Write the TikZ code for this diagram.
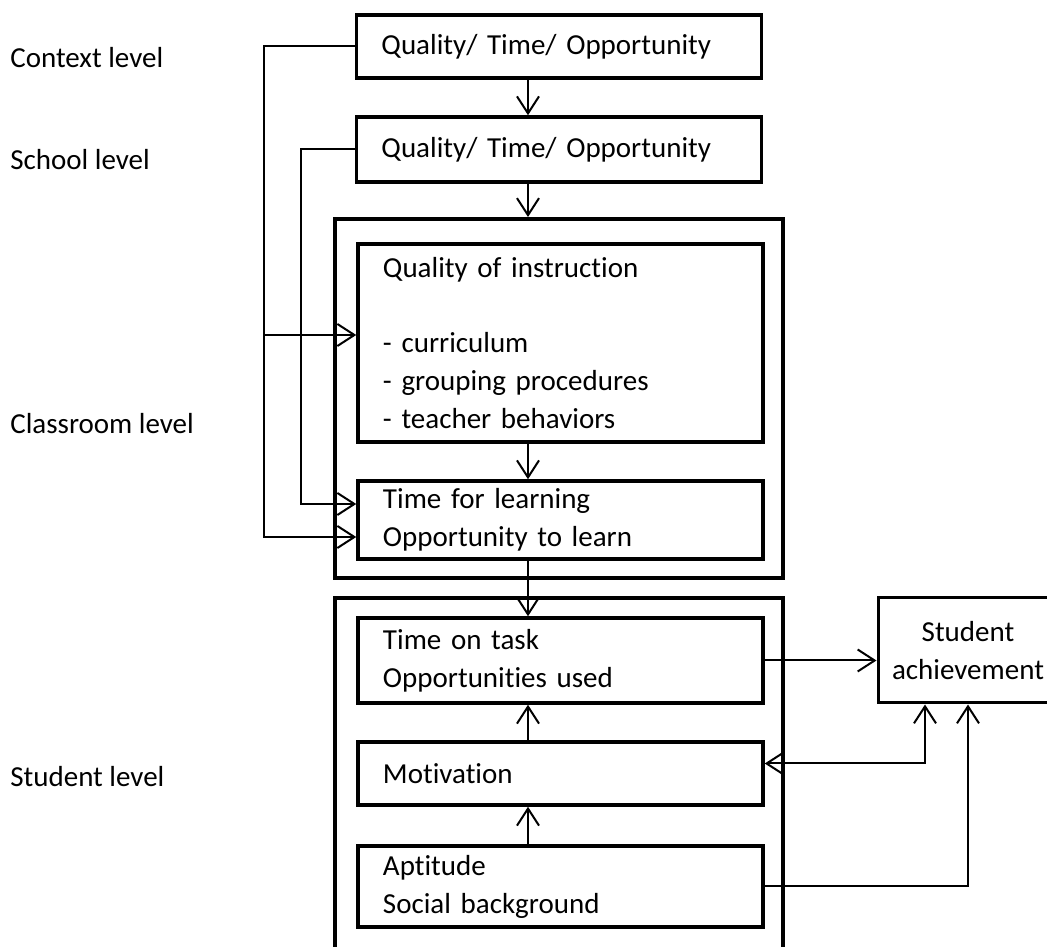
\documentclass[tikz,border=0pt]{standalone}
\usepackage{fontspec}
\setmainfont{Carlito}[Ligatures=NoCommon]
\usepackage{tikz}
\usetikzlibrary{calc, arrows.meta}

\begin{document}
\begin{tikzpicture}[x=0.2mm, y=-0.2mm]

        % Styles for boxes, frames and arrows
        \tikzset{box/.style={draw, line width=0.7mm, align=left, text width=71mm, inner xsep=5mm,
                             minimum width=81mm, font=\fontsize{16.5}{21.6}\selectfont},
                 frame/.style={draw, line width=0.8mm, minimum width=89.6mm},
                 lvl/.style={anchor=west, inner sep=0pt, font=\fontsize{16.5}{21.6}\selectfont},
                 arr/.style={-{Straight Barb[length=3.4mm, width=4.4mm]}, line width=0.4mm},
                 arr2/.style={{Straight Barb[length=3.4mm, width=4.4mm]}-{Straight Barb[length=3.4mm, width=4.4mm]},
                              line width=0.4mm}}

        \useasboundingbox (0,0) rectangle (1047,947);

        % =================================================================
        % 1. LEVEL LABELS
        % =================================================================

        \node[lvl] (lctx) at (10, 58) {Context level};
        \node[lvl] (lsch) at (10, 160) {School level};
        \node[lvl] (lcls) at (10, 424) {Classroom level};
        \node[lvl] (lstu) at (10, 777) {Student level};

        % =================================================================
        % 2. BOXES
        % =================================================================

        % Outer frames (student frame runs off the bottom)
        \node[frame, minimum height=71.8mm] (cls) at (559, 398.5) {};
        \node[frame, minimum height=78.4mm] (stu) at (559, 794) {};

        \node[box, minimum height=12.6mm] (ctx) at (559, 46.5) {Quality/ Time/ Opportunity};
        \node[box, minimum height=13mm] (sch) at (559, 149.5) {Quality/ Time/ Opportunity};
        \node[box, minimum height=39.6mm] (qoi) at (560.5, 343)
            {Quality of instruction\\[21.6pt]- curriculum\\- grouping procedures\\- teacher behaviors};
        \node[box, minimum height=15.6mm] (tfl) at (560.5, 520) {Time for learning\\Opportunity to learn};
        \node[box, minimum height=17mm] (tot) at (560.5, 660.5) {Time on task\\Opportunities used};
        \node[box, minimum height=12.6mm] (mot) at (560.5, 773.5) {Motivation};
        \node[box, minimum height=16.2mm] (apt) at (560.5, 886.5) {Aptitude\\Social background};
        \node[box, align=center, text width=34mm, inner xsep=1mm, minimum width=36mm, line width=0.6mm,
              minimum height=21mm] (ach) at (968, 650.5) {Student\\achievement};

        % =================================================================
        % 3. ARROWS
        % =================================================================

        % Define Coordinates
        \coordinate (ax) at (528, 0);
        \coordinate (cx) at (264, 0);
        \coordinate (sx) at (301, 0);
        \coordinate (qoiA) at ($(qoi.west)+(0,-8)$);
        \coordinate (tflA) at ($(tfl.west)+(0,-16)$);
        \coordinate (tflB) at ($(tfl.west)+(0,17)$);
        \coordinate (motA) at ($(mot.east)+(0,-10)$);
        \coordinate (achA) at ($(ach.south)+(-43,0)$);

        % Downward chain
        \draw[arr] (ax |- ctx.south) -- (ax |- sch.north);
        \draw[arr] (ax |- sch.south) -- (ax |- cls.north);
        \draw[arr] (ax |- qoi.south) -- (ax |- tfl.north);
        \draw[arr] (ax |- tfl.south) -- (ax |- tot.north);
        \draw[arr] (ax |- mot.north) -- (ax |- tot.south);
        \draw[arr] (ax |- apt.north) -- (ax |- mot.south);

        % Feed lines on the left
        \draw[arr] (ctx.west) -| (cx |- tflB) -- (tflB);
        \draw[arr] (cx |- qoiA) -- (qoiA);
        \draw[arr] (sch.west) -| (sx |- tflA) -- (tflA);

        % Student achievement
        \draw[arr] (tot.east) -- (tot.east -| ach.west);
        \draw[arr2] (motA) -| (achA);
        \draw[arr] (apt.east) -| (ach.south);

\end{tikzpicture}
\end{document}
